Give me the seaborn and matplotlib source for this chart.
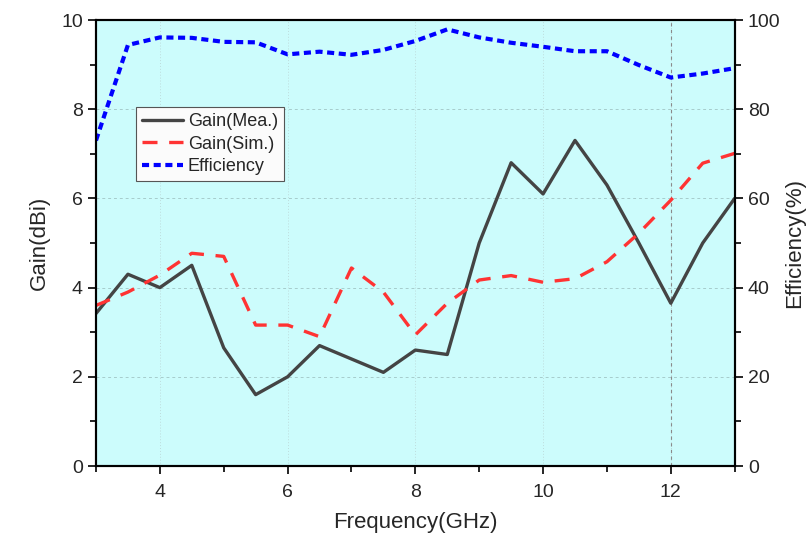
import pandas as pd
import seaborn as sns
import matplotlib.pyplot as plt
from matplotlib.ticker import MultipleLocator

freq = [3, 3.5, 4, 4.5, 5, 5.5, 6, 6.5, 7, 7.5, 8, 8.5, 9, 9.5, 10, 10.5, 11, 11.5, 12, 12.5, 13]
gain_mea = [3.42, 4.3, 4.0, 4.5, 2.65, 1.6, 2.0, 2.7, 2.4, 2.1, 2.6, 2.5, 5.0, 6.8, 6.1, 7.3, 6.3, 5.0, 3.65, 5.0, 6.0]
gain_sim = [3.6, 3.9, 4.28, 4.77, 4.7, 3.16, 3.16, 2.9, 4.44, 3.9, 2.94, 3.65, 4.17, 4.27, 4.12, 4.2, 4.58, 5.22, 5.96, 6.79, 7.01]
efficiency = [73, 94.4, 96.1, 96, 95.1, 95, 92.3, 92.9, 92.2, 93.3, 95.3, 97.9, 96.1, 94.9, 94, 93, 93, 89.9, 87.1, 88, 89.2]

df = pd.DataFrame({'freq': freq, 'mea': gain_mea, 'sim': gain_sim, 'eff': efficiency})

sns.set_style('ticks')
plt.rcParams['font.family'] = ['Liberation Sans', 'DejaVu Sans']

bg = '#CCFCFC'
fig = plt.figure(figsize=(8.1, 5.38), dpi=100)
ax = fig.add_axes([0.1185, 0.1338, 0.7885, 0.829])
ax.set_facecolor(bg)

sns.lineplot(data=df, x='freq', y='mea', ax=ax, color='#444444', lw=2.4, legend=False)
sns.lineplot(data=df, x='freq', y='sim', ax=ax, color='#FF3333', lw=2.4, legend=False)
ax.lines[-1].set_linestyle((0, (4.5, 3.5)))

ax2 = ax.twinx()
sns.lineplot(data=df, x='freq', y='eff', ax=ax2, color='#0000FF', lw=3, legend=False)
ax2.lines[-1].set_linestyle((0, (1.7, 1.1)))

ax.set_xlim(3, 13)
ax.set_ylim(0, 10)
ax2.set_ylim(0, 100)

ax.xaxis.set_major_locator(MultipleLocator(2))
ax.xaxis.set_minor_locator(MultipleLocator(1))
ax.yaxis.set_major_locator(MultipleLocator(2))
ax.yaxis.set_minor_locator(MultipleLocator(1))
ax2.yaxis.set_major_locator(MultipleLocator(20))
ax2.yaxis.set_minor_locator(MultipleLocator(10))

for a in (ax, ax2):
    a.tick_params(which='major', length=6, width=1.2, labelsize=14, color='black')
    a.tick_params(which='minor', length=4, width=1.2, color='black')
    for s in a.spines.values():
        s.set_linewidth(1.5)
        s.set_color('black')
ax.tick_params(axis='x', pad=7)

ax.grid(True, axis='y', which='major', color='#A6CCCC', ls=(0, (3, 3)), lw=0.7)
ax.grid(True, axis='x', which='major', color='#BDDCDC', ls=(0, (1, 2)), lw=0.7)
ax.axvline(12, color='#8A8A8A', ls=(0, (3, 3)), lw=0.8, zorder=1)

ax.set_xlabel('Frequency(GHz)', fontsize=16, labelpad=8)
ax.set_ylabel('Gain(dBi)', fontsize=16)
ax2.set_ylabel('Efficiency(%)', fontsize=16)
ax.yaxis.set_label_coords(-0.072, 0.5)
ax2.yaxis.set_label_coords(1.078, 0.5)

handles = ax.lines[:2] + ax2.lines[:1]
leg = ax2.legend(handles, ['Gain(Mea.)', 'Gain(Sim.)', 'Efficiency'], loc='upper left',
                 bbox_to_anchor=(0.062, 0.805), fontsize=13, frameon=True, fancybox=False,
                 framealpha=1, facecolor='#FBFBFB', edgecolor='#555555', borderpad=0.35,
                 borderaxespad=0, handlelength=2.3, handletextpad=0.25, labelspacing=0.3)
leg.get_frame().set_linewidth(0.8)

fig.savefig('out.png', dpi=100)
